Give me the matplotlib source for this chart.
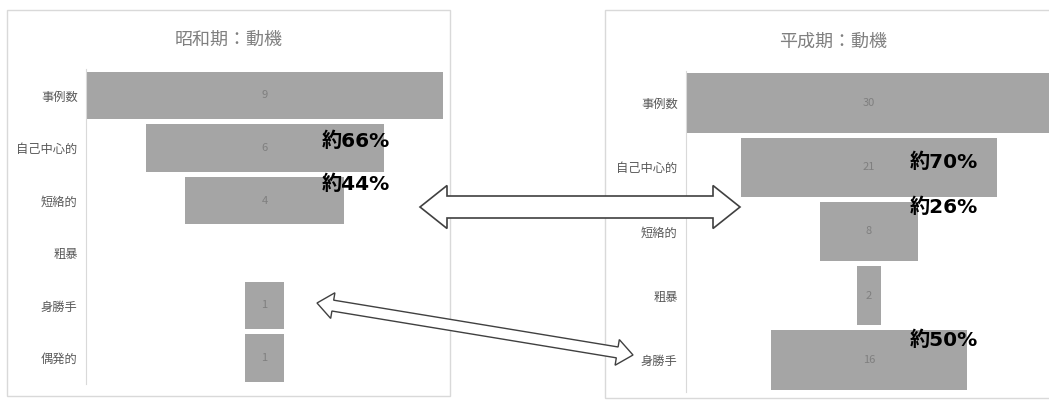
import numpy as np
import matplotlib
matplotlib.use("Agg")
import matplotlib.pyplot as plt
from matplotlib.patches import Rectangle, Polygon

plt.rcParams['font.family'] = ['Noto Sans CJK JP', 'DejaVu Sans']

# 昭和期の動機
showa_labels = ["事例数", "自己中心的", "短絡的", "粗暴", "身勝手", "偶発的"]
showa_values = [9, 6, 4, 0, 1, 1]
showa_notes = ["約66%", "約44%"]

# 平成期の動機
heisei_labels = ["事例数", "自己中心的", "短絡的", "粗暴", "身勝手"]
heisei_values = [30, 21, 8, 2, 16]
heisei_notes = ["約70%", "約26%", "約50%"]

W, H = 1049, 401
fig = plt.figure(figsize=(W / 100, H / 100), dpi=100)


def px_box(x0, y0, x1, y1):
    # pixel box (origin top-left) -> figure fraction rect
    return [x0 / W, 1 - y1 / H, (x1 - x0) / W, (y1 - y0) / H]


def px(x, y):
    return (x / W, 1 - y / H)


def funnel(ax, labels, values, bar_h):
    y = np.arange(len(values))
    vals = np.array(values, dtype=float)
    ax.barh(y, vals, left=-vals / 2, height=bar_h, color="#a5a5a5")
    for yi, v in zip(y, values):
        if v:
            ax.text(0, yi, str(v), ha="center", va="center", fontsize=8, color="#7f7f7f")
    m = max(values) / 2
    ax.set_xlim(-m, m)
    ax.set_ylim(len(values) - 0.5, -0.5)
    ax.set_yticks(y, labels)
    ax.tick_params(axis="y", length=0, pad=6, labelsize=8.8, labelcolor="#595959")
    ax.set_xticks([])
    for s in ["top", "right", "bottom"]:
        ax.spines[s].set_visible(False)
    ax.spines["left"].set_color("#d9d9d9")
    ax.set_facecolor("none")


def double_arrow(p0, p1, shaft, head, head_len, lw):
    p0 = np.array(p0, float)
    p1 = np.array(p1, float)
    d = p1 - p0
    u = d / np.hypot(*d)
    n = np.array([-u[1], u[0]])
    pts = [
        p0,
        p0 + u * head_len + n * head / 2,
        p0 + u * head_len + n * shaft / 2,
        p1 - u * head_len + n * shaft / 2,
        p1 - u * head_len + n * head / 2,
        p1,
        p1 - u * head_len - n * head / 2,
        p1 - u * head_len - n * shaft / 2,
        p0 + u * head_len - n * shaft / 2,
        p0 + u * head_len - n * head / 2,
    ]
    fig.add_artist(Polygon([px(*p) for p in pts], closed=True, transform=fig.transFigure,
                           facecolor="white", edgecolor="#404040", lw=lw, zorder=5))


note_font = dict(ha="left", va="center", fontsize=14.5, fontweight="bold", color="black",
                 family=["DejaVu Sans", "Noto Sans CJK JP"])

# panel frames
for x0, y0, x1, y1 in [(7, 10, 450, 396), (605, 10, 1060, 398)]:
    fig.add_artist(Rectangle(px(x0, y1), (x1 - x0) / W, (y1 - y0) / H, transform=fig.transFigure,
                             fill=False, edgecolor="#d9d9d9", lw=1))

ax1 = fig.add_axes(px_box(86, 69.25, 443, 384.25))
funnel(ax1, showa_labels, showa_values, 0.9)
for txt, yy in zip(showa_notes, [0.88, 1.70]):
    ax1.text(1.45, yy, txt, **note_font)

ax2 = fig.add_axes(px_box(686, 70.9, 1052, 392.1))
funnel(ax2, heisei_labels, heisei_values, 0.92)
for txt, yy in zip(heisei_notes, [0.93, 1.63, 3.69]):
    ax2.text(3.36, yy, txt, **note_font)

fig.text(*px(229, 40), "昭和期：動機", ha="center", va="center", fontsize=13, color="#7f7f7f")
fig.text(*px(833, 42), "平成期：動機", ha="center", va="center", fontsize=13, color="#7f7f7f")

double_arrow((420, 207), (740, 207), 22, 43, 27, 1.2)
double_arrow((317, 303), (633, 355), 11, 26, 16, 1.0)

fig.savefig("out.png", dpi=100)
